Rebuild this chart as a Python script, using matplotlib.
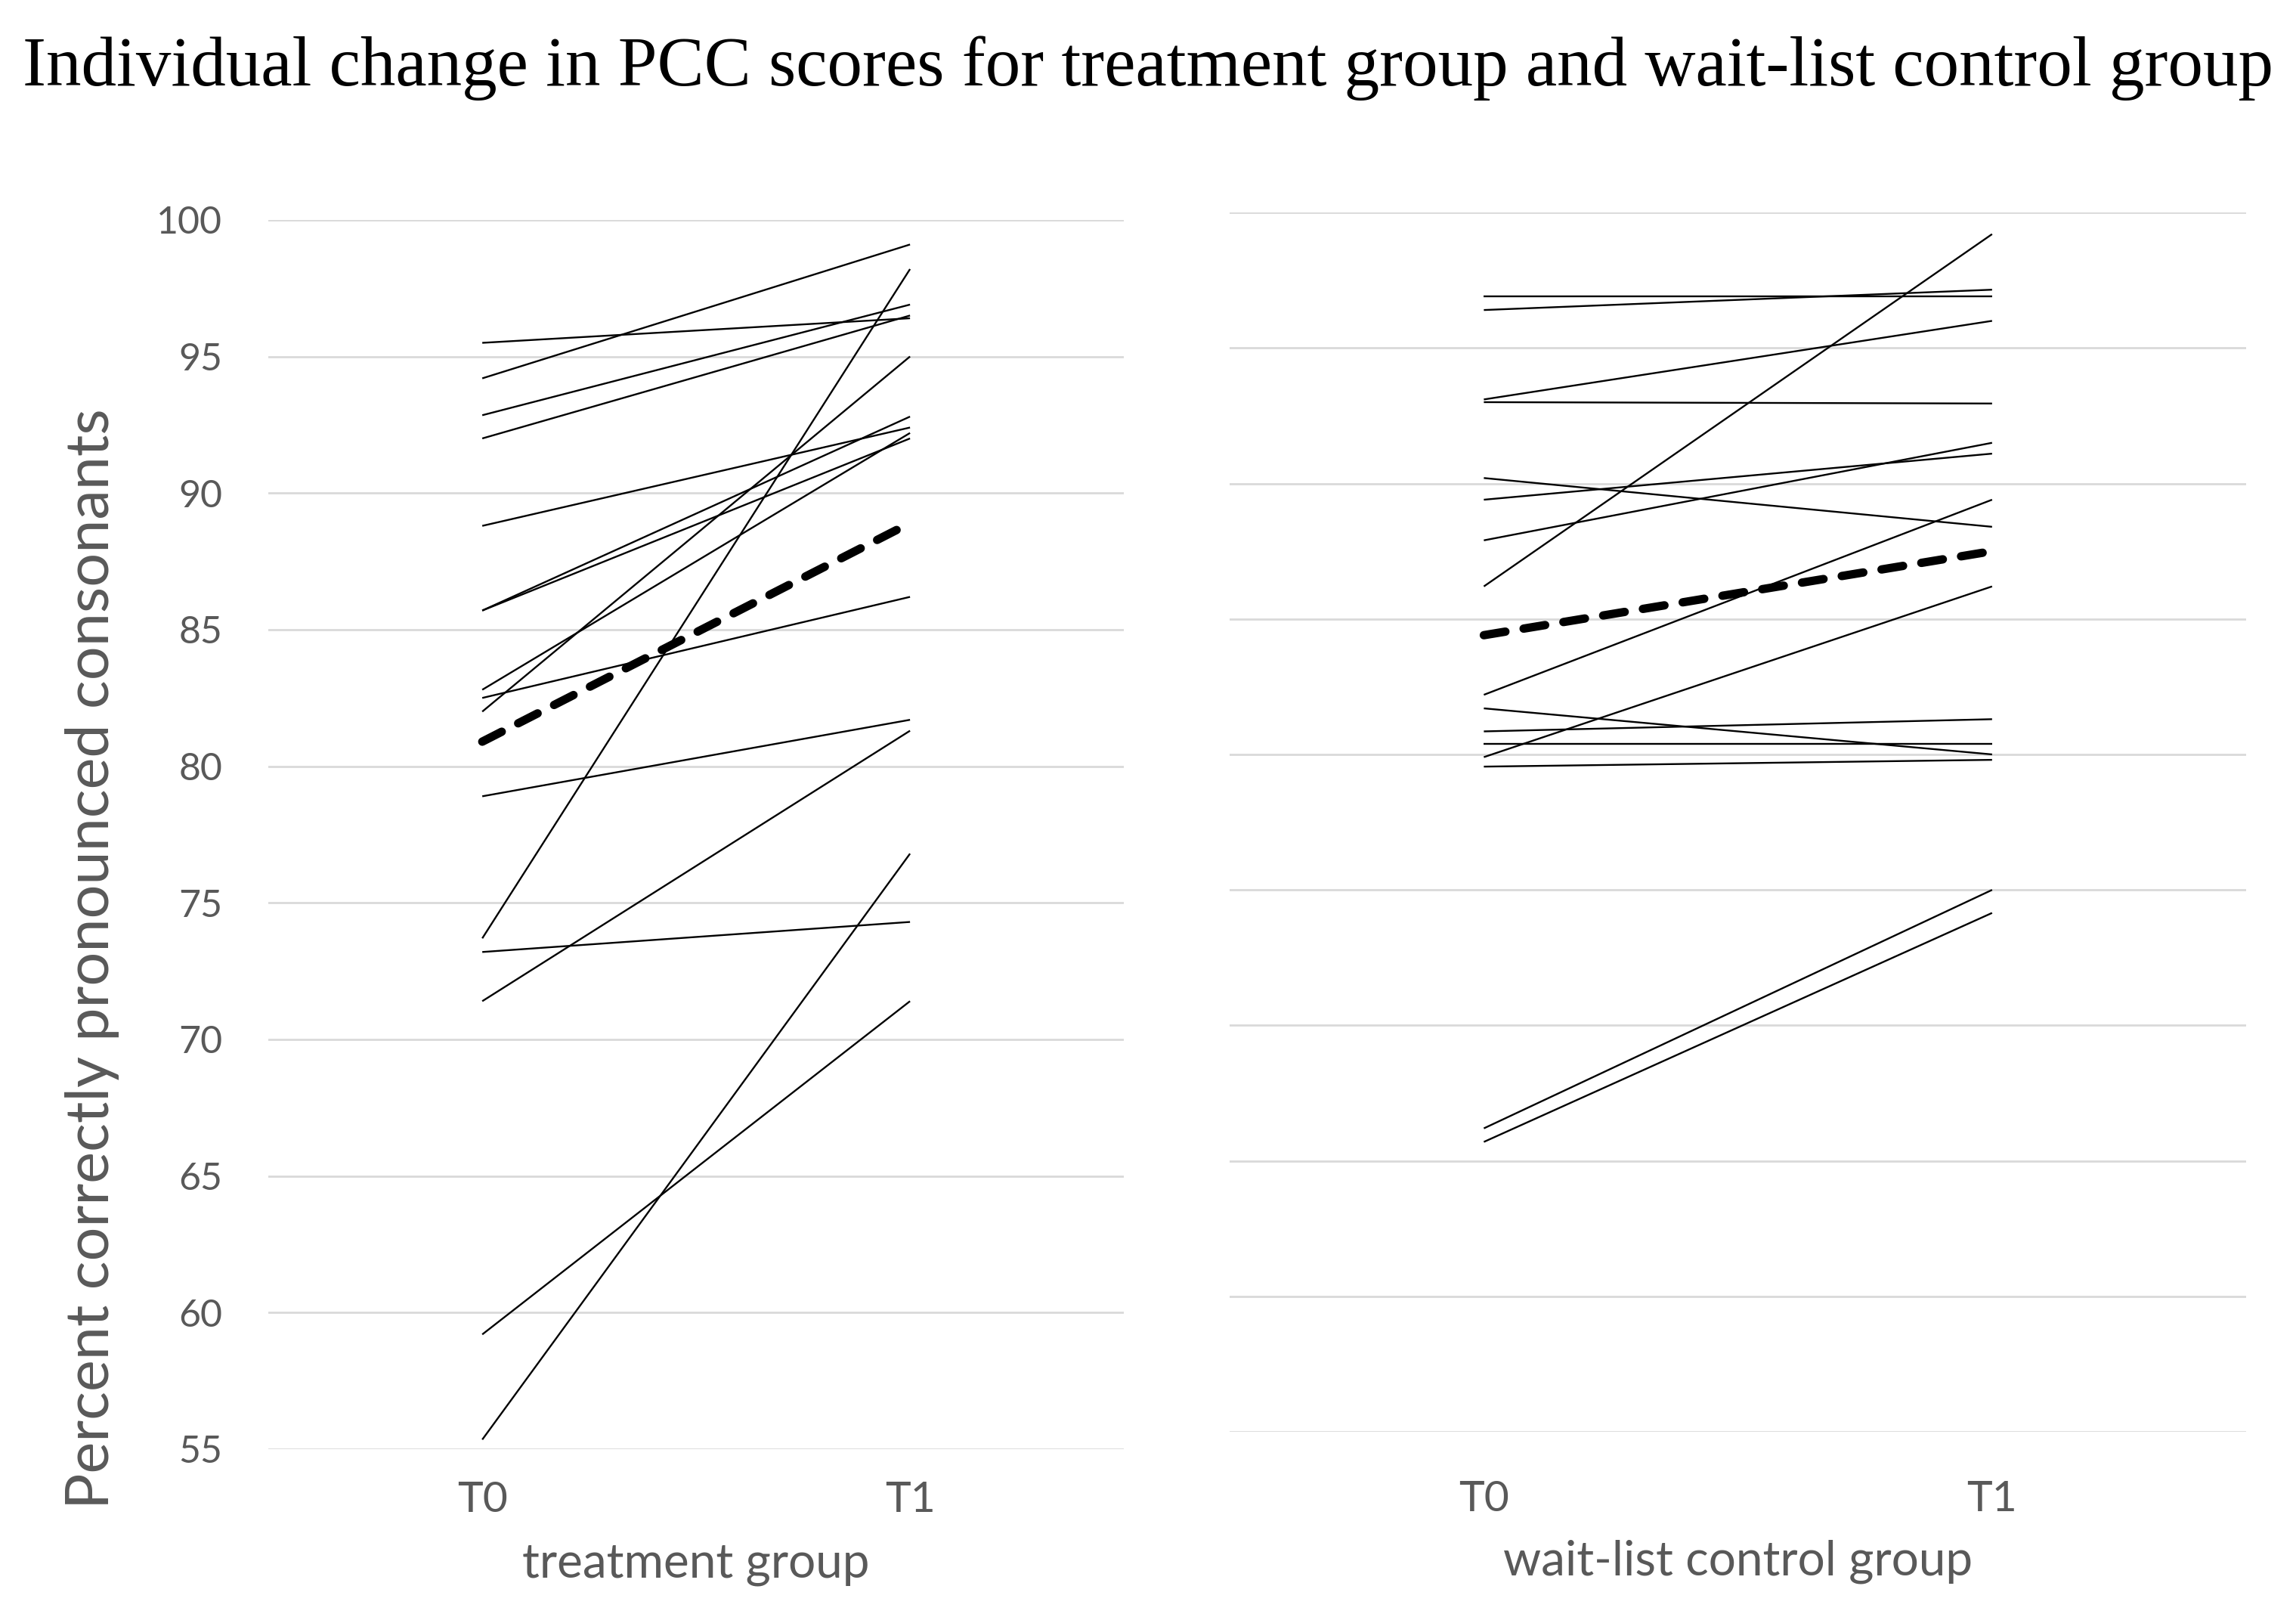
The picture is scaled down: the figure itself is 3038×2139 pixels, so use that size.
import matplotlib
matplotlib.use("Agg")
import matplotlib.pyplot as plt
import numpy as np

# PCC scores, one pair (T0, T1) per child
treat_t0 = [95.5, 94.2, 92.85, 92.0, 88.8, 85.7, 85.7, 82.8, 82.5, 82.0, 78.9, 73.7, 73.2, 71.4, 59.2, 55.35]
treat_t1 = [96.4, 99.1, 96.9, 96.5, 92.4, 92.8, 92.0, 92.2, 86.2, 95.0, 81.7, 98.2, 74.3, 81.3, 71.4, 76.8]

wait_t0 = [96.9, 96.4, 93.1, 93.0, 90.2, 89.4, 87.9, 86.2, 82.2, 81.7, 80.85, 80.4, 79.9, 79.55, 66.2, 65.7]
wait_t1 = [96.9, 97.15, 96.0, 92.95, 88.4, 91.1, 91.5, 99.2, 89.4, 80.0, 81.3, 80.4, 86.2, 79.8, 75.0, 74.15]

# group means (dashed lines)
treat_mean = [80.9, 88.9]
wait_mean = [84.4, 87.5]

times = ["T0", "T1"]
yticks = [55, 60, 65, 70, 75, 80, 85, 90, 95, 100]

grey = "#595959"
sans = ["Lato", "DejaVu Sans"]

fig = plt.figure(figsize=(30.38, 21.39), dpi=100)
ax1 = fig.add_axes([0.1169, 0.1038, 0.3726, 0.7602])
ax2 = fig.add_axes([0.5356, 0.1145, 0.4427, 0.7541])

x = np.arange(len(times))


def draw(ax, t0, t1, mean, xlabel, tpad, lpad):
    for a, b in zip(t0, t1):
        ax.plot(x, [a, b], color="black", lw=1.7, solid_capstyle="butt")
    ax.plot(x, mean, color="black", lw=8, dashes=(2.6, 2.2), dash_capstyle="round")
    ax.set_xlim(-0.5, 1.5)
    ax.set_ylim(55, 100)
    ax.set_yticks(yticks)
    ax.yaxis.grid(True, color="#d9d9d9", lw=2)
    ax.set_axisbelow(True)
    for s in ax.spines.values():
        s.set_visible(False)
    ax.tick_params(length=0)
    ax.set_xticks(x)
    ax.set_xticklabels(times, fontsize=41, color=grey, family=sans)
    ax.tick_params(axis="x", pad=tpad)
    ax.set_xlabel(xlabel, fontsize=46, color=grey, family=sans, labelpad=lpad)


draw(ax1, treat_t0, treat_t1, treat_mean, "treatment group", 30, 22)
draw(ax2, wait_t0, wait_t1, wait_mean, "wait-list control group", 46, 20)

ax1.set_yticklabels([str(v) for v in yticks], fontsize=36, color=grey, family=sans)
ax1.tick_params(axis="y", pad=44)
ax2.set_yticklabels([])

fig.text(0.040, 0.407, "Percent correctly pronounced consonants", rotation=90,
         ha="center", va="center", fontsize=57, color=grey, family=sans)

fig.text(0.5, 0.958, "Individual change in PCC scores for treatment group and wait-list control group",
         ha="center", va="center", fontsize=67, family=["Liberation Serif", "DejaVu Serif"])

fig.savefig("out.png", dpi=100)
